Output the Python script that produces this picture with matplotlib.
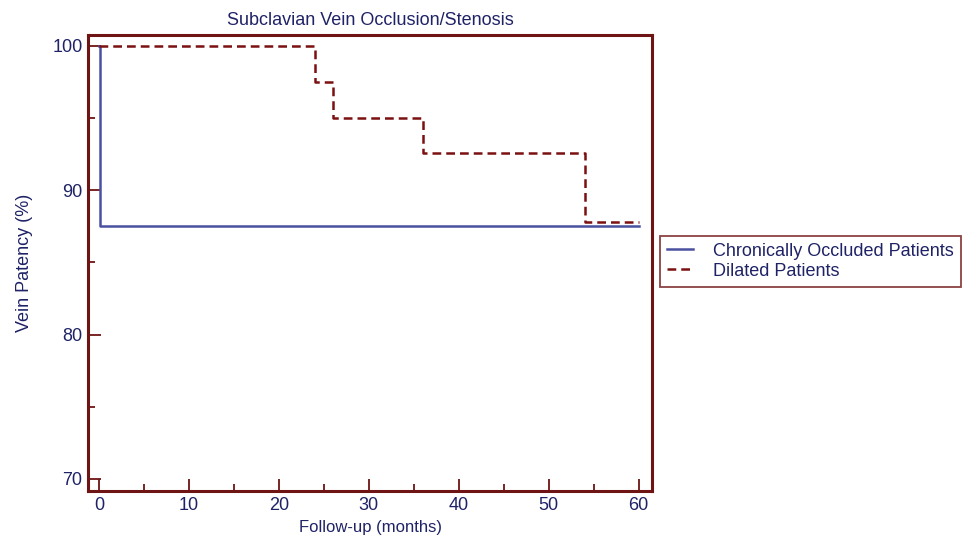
import matplotlib.pyplot as plt
from matplotlib.ticker import MultipleLocator

plt.switch_backend('agg')
plt.rcParams['font.family'] = ['Liberation Sans', 'DejaVu Sans']

# Kaplan-Meier style step data
occluded_t = [0, 0.1, 60]
occluded_y = [100, 87.5, 87.5]
dilated_t = [0, 24, 26, 36, 54, 60]
dilated_y = [100, 97.5, 95.0, 92.6, 87.8, 87.8]

navy = '#1f2366'
spine_c = '#6e1414'
blue_c = '#4a51a0'
red_c = '#7a1010'

fig = plt.figure(figsize=(9.66, 5.43), dpi=100)
ax = fig.add_axes([0.0911, 0.0958, 0.584, 0.8398])

ax.step(occluded_t, occluded_y, where='post', color=blue_c, lw=1.8,
        label='Chronically Occluded Patients')
ax.step(dilated_t, dilated_y, where='post', color=red_c, lw=1.8,
        ls=(0, (3.5, 2)), label='Dilated Patients')

ax.set_xlim(-1.22, 61.5)
ax.set_ylim(69.17, 100.76)
ax.xaxis.set_major_locator(MultipleLocator(10))
ax.xaxis.set_minor_locator(MultipleLocator(5))
ax.yaxis.set_major_locator(MultipleLocator(10))
ax.yaxis.set_minor_locator(MultipleLocator(5))
ax.tick_params(which='both', direction='in', color=spine_c, labelcolor=navy,
               labelsize=13, width=1.3, pad=4)
ax.tick_params(which='major', length=9)
ax.tick_params(which='minor', length=5)
for s in ax.spines.values():
    s.set_color(spine_c)
    s.set_linewidth(2.2)

ax.set_title('Subclavian Vein Occlusion/Stenosis', color=navy, fontsize=13, pad=7)
ax.set_xlabel('Follow-up (months)', color=navy, fontsize=12, labelpad=5)
ax.set_ylabel('Vein Patency (%)', color=navy, fontsize=13, labelpad=14)

leg = ax.legend(loc='center left', bbox_to_anchor=(1.014, 0.504), fontsize=13,
                frameon=True, fancybox=False, handlelength=1.45,
                borderpad=0.4, labelspacing=0.15, handletextpad=1.1,
                borderaxespad=0)
leg.get_frame().set_edgecolor(spine_c)
leg.get_frame().set_linewidth(1.3)
for t in leg.get_texts():
    t.set_color(navy)

fig.savefig('out.png', dpi=100)
